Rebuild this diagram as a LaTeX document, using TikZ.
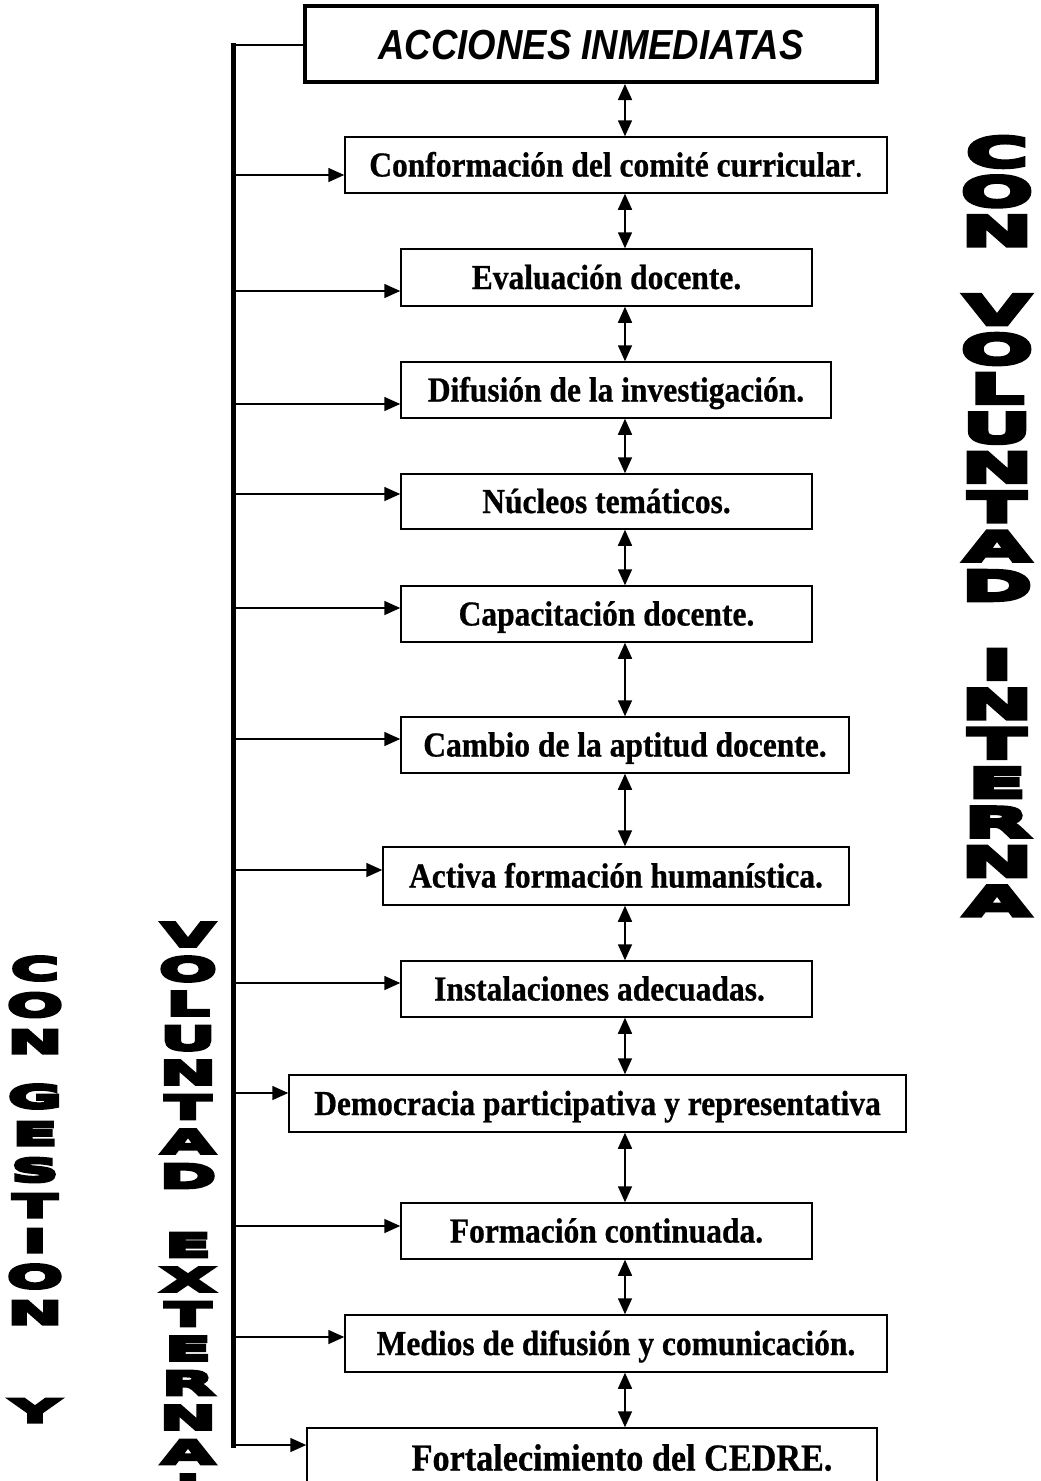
\documentclass[tikz,border=0pt]{standalone}
\usepackage{fontspec}
\setmainfont{Liberation Serif}
\newfontfamily\titlefont{Liberation Sans}[FakeStretch=0.87]
\newfontfamily\boxfont{Liberation Serif}[FakeStretch=0.9,FakeBold=0.7]
\newfontfamily\widefont{DejaVu Sans}[FakeStretch=2.15,FakeBold=11]
\usetikzlibrary{arrows.meta}
\begin{document}
\begin{tikzpicture}[x=1pt,y=-1pt,
  item/.style={draw, line width=1.5pt, inner sep=0pt,
    font=\boxfont\bfseries\fontsize{35}{38}\selectfont, text height=23pt, text depth=0pt},
  headbox/.style={draw, line width=4pt, inner sep=0pt,
    font=\titlefont\bfseries\itshape\fontsize{42}{44}\selectfont, text height=30pt, text depth=0pt},
  conn/.style={line width=1.6pt, -{Triangle[length=16pt,width=14pt]}},
  dbl/.style={line width=1.6pt, {Triangle[length=16pt,width=14pt]}-{Triangle[length=16pt,width=14pt]}},
  spine/.style={line width=5pt, line cap=rect},
  bigletter/.style={inner sep=0pt, font=\widefont\bfseries\fontsize{40}{40}\selectfont, text height=29pt, text depth=0pt},
  midletter/.style={inner sep=0pt, font=\widefont\bfseries\fontsize{32}{32}\selectfont, text height=23.3pt, text depth=0pt},
  smallletter/.style={inner sep=0pt, font=\widefont\bfseries\fontsize{31}{31}\selectfont, text height=22.6pt, text depth=0pt}
]
\useasboundingbox (0,0) rectangle (1041,1481);
\clip (0,0) rectangle (1041,1481);
\fill[white] (0,0) rectangle (1041,1481);

% boxes
\node[headbox, minimum width=572pt, minimum height=76pt] (top) at (591,44) {ACCIONES INMEDIATAS};
\node[item, minimum width=542pt, minimum height=56pt] (b1) at (616,165) {Conformación del comité curricular{\mdseries.}};
\node[item, minimum width=411pt, minimum height=57pt] (b2) at (606.5,277.5) {Evaluación docente.};
\node[item, minimum width=430pt, minimum height=56pt] (b3) at (616,390) {Difusión de la investigación.};
\node[item, minimum width=411pt, minimum height=55pt] (b4) at (606.5,501.5) {Núcleos temáticos.};
\node[item, minimum width=411pt, minimum height=56pt] (b5) at (606.5,614) {Capacitación docente.};
\node[item, minimum width=448pt, minimum height=56pt] (b6) at (625,745) {Cambio de la aptitud docente.};
\node[item, minimum width=466pt, minimum height=58pt] (b7) at (616,876) {Activa formación humanística.};
\node[item, minimum width=411pt, minimum height=56pt] (b8) at (606.5,989) {\hspace*{-14pt}Instalaciones adecuadas.};
\node[item, minimum width=617pt, minimum height=57pt] (b9) at (597.5,1103.5) {Democracia participativa y representativa};
\node[item, minimum width=411pt, minimum height=56pt] (b10) at (606.5,1231) {Formación continuada.};
\node[item, minimum width=542pt, minimum height=57pt] (b11) at (616,1343.5) {Medios de difusión y comunicación.};
\node[item, minimum width=570pt, minimum height=60pt, font=\boxfont\bfseries\fontsize{38}{40}\selectfont, text height=25pt] (b12) at (592,1458) {\hspace*{60pt}Fortalecimiento del CEDRE.};

% spine
\coordinate (spTop) at (233,45);
\coordinate (spBot) at (233,1445);
\draw[spine] (spTop) -- (spBot);
\draw[line width=1.6pt] (spTop) -- (spTop -| top.west);

% horizontal arrows from spine
\foreach \b/\yy in {b1/175, b2/291, b3/404, b4/494, b5/608, b6/739, b7/870, b8/983, b9/1093, b10/1226, b11/1337, b12/1445} {
  \coordinate (s-\b) at (233,\yy);
  \draw[conn] (s-\b) -- (s-\b -| \b.west);
}

% vertical double arrows
\coordinate (ax) at (625,0);
\foreach \u/\l in {top/b1, b1/b2, b2/b3, b3/b4, b4/b5, b5/b6, b6/b7, b7/b8, b8/b9, b9/b10, b10/b11, b11/b12} {
  \draw[dbl] (\u.south -| ax) -- (\l.north -| ax);
}

% right column: CON VOLUNTAD INTERNA
\foreach \ch/\yy [count=\i] in {C/152, O/191.4, N/230.8, V/309.7, O/349.1, L/388.5, U/427.9, N/467.4, T/506.8, A/546.2, D/585.6, I/664.5, N/703.9, T/743.3, E/782.7, R/822.1, N/861.6, A/901} {
  \node[bigletter] (r\i) at (997,\yy) {\ch};
}

% middle column: VOLUNTAD EXTERNA
\foreach \ch/\yy [count=\i] in {V/934.5, O/969, L/1003.5, U/1038, N/1072.5, T/1107, A/1141.5, D/1176, E/1245, X/1279.5, T/1314, E/1348.5, R/1383, N/1417.5, A/1452, I/1486.5} {
  \node[midletter] (m\i) at (188,\yy) {\ch};
}

% left column: CON GESTION Y
\foreach \ch/\yy [count=\i] in {C/968.5, O/1005, N/1041.5, G/1096.5, E/1133.5, S/1170, T/1205.5, I/1240.5, O/1276.5, N/1312.5, Y/1410.5} {
  \node[smallletter] (l\i) at (35,\yy) {\ch};
}
\end{tikzpicture}
\end{document}
